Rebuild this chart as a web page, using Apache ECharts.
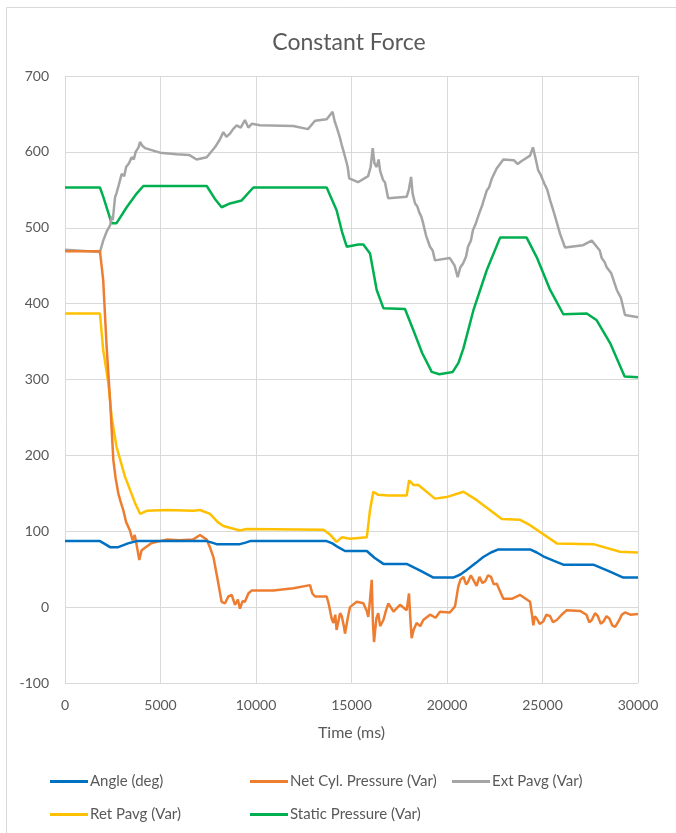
<!DOCTYPE html>
<html>
<head>
<meta charset="utf-8">
<script src="https://cdn.jsdelivr.net/npm/echarts@6/dist/echarts.min.js"></script>
<style>
html,body{margin:0;padding:0;background:#fff;}
#chart{width:676px;height:833px;}
</style>
</head>
<body>
<div id="chart"></div>
<script>
const seriesNames = ['Angle (deg)', 'Net Cyl. Pressure (Var)', 'Ext Pavg (Var)', 'Ret Pavg (Var)', 'Static Pressure (Var)'];
const xTicks = [0, 5000, 10000, 15000, 20000, 25000, 30000];
const yTicks = [-100, 0, 100, 200, 300, 400, 500, 600, 700];

const angleT = [0,1830,2100,2360,2790,3300,3750,7420,7700,7940,9160,9450,9690,13700,14000,14300,14660,15800,16200,16670,17890,18600,19290,20330,20700,21030,21500,21900,22300,22690,24350,24700,25040,25600,26090,27660,28500,29230,30000];
const angleV = [87,87,83,79,79,84,87,87,85,83,83,85,87,87,84,79,74,74,65,57,57,48,39,39,43,49,58,66,72,76,76,72,67,61,56,56,47,39,39];

const netT = [0,1830,1920,2000,2180,2360,2530,2650,2790,2900,3050,3200,3400,3540,3650,3750,3890,4010,4280,4500,4800,5320,6000,6700,7070,7420,7600,7770,8030,8200,8380,8550,8730,8900,9050,9160,9300,9420,9600,9780,10910,11960,12830,12950,13090,13700,13800,13960,14050,14150,14220,14400,14490,14600,14660,14800,14920,15270,15620,15800,15880,15970,16060,16120,16180,16300,16400,16500,16670,16800,16930,17200,17540,17890,18010,18080,18150,18250,18410,18600,18760,19110,19400,19630,20150,20420,20590,20700,20860,21000,21100,21250,21380,21550,21700,21850,22000,22150,22300,22450,22600,22950,23390,23830,24350,24450,24520,24600,24700,24850,25040,25200,25400,25550,25750,26000,26270,26970,27300,27450,27580,27750,27900,28050,28190,28350,28500,28650,28800,29000,29150,29320,29600,30000];
const netV = [469,469,468,431,343,273,194,170,150,140,128,112,101,88,95,82,62,75,80,84,86,89,88,89,95,89,78,66,31,7,5,14,16,3,10,-2,8,7,18,22,22,25,29,18,14,14,5,-15,-21,-10,-30,-8,-12,-25,-35,-15,0,7,5,-5,-13,10,36,-20,-46,-15,-8,-25,-17,-5,5,-6,3,-4,18,-15,-41,-30,-21,-25,-17,-10,-14,-6,-7,1,27,36,40,30,33,42,36,28,40,32,34,42,40,30,31,11,11,16,7,-10,-24,-12,-15,-22,-19,-10,-12,-20,-17,-10,-4,-5,-10,-20,-17,-8,-12,-22,-19,-12,-15,-24,-26,-18,-10,-7,-10,-9];

const extT = [0,1830,2000,2200,2360,2450,2500,2620,2700,2800,2970,3100,3200,3350,3490,3600,3700,3850,3930,4050,4190,4970,5850,6500,6890,7420,7850,8100,8290,8450,8640,8800,8990,9200,9420,9600,9780,10210,11950,12720,13090,13700,14010,14120,14220,14400,14480,14570,14700,14800,14880,15340,15870,16000,16110,16200,16320,16420,16500,16650,16750,16920,17890,18000,18120,18200,18330,18450,18550,18650,18750,18900,19110,19250,19370,20150,20400,20560,20700,20840,21000,21100,21250,21360,21500,21700,21850,22080,22200,22350,22600,22950,23500,23700,23910,24350,24500,24650,24770,24900,25100,25250,25400,25600,25920,26180,27120,27580,27840,28000,28100,28250,28360,28600,28890,29100,29320,30000];
const extV = [471,468,483,496,503,515,510,540,546,555,571,568,580,585,593,590,600,606,613,608,605,599,597,596,590,593,606,616,626,620,624,630,635,632,642,632,637,635,634,630,641,643,653,640,633,618,610,602,590,580,565,560,568,580,605,585,580,590,575,563,560,539,541,550,567,545,532,528,520,515,506,490,475,470,457,460,450,435,448,453,462,475,483,497,505,520,530,549,553,565,578,590,589,584,588,595,606,590,576,570,558,550,536,520,492,474,477,483,475,470,460,455,448,440,418,408,385,382];

const retT = [0,1830,2000,2270,2440,2700,3140,3670,3930,4280,5320,6720,7070,7590,8000,8290,9160,9510,13530,13900,14220,14490,14920,15800,15970,16140,16400,16930,17890,18010,18240,18500,19370,19980,20860,21560,22870,23830,24350,25750,27660,29060,30000];
const retV = [387,387,339,295,251,211,172,137,123,127,128,127,128,123,112,107,101,103,102,95,86,92,90,92,128,152,148,147,147,167,161,161,143,145,152,141,116,115,108,84,83,73,72];

const staticT = [0,1830,2000,2440,2700,3230,3750,4100,7420,7850,8200,8640,9250,9860,13700,14220,14500,14750,15360,15620,15970,16320,16670,17800,18240,18700,19200,19600,20300,20600,20860,21380,22080,22780,24170,24700,25400,26090,27320,27840,28540,29300,30000];
const staticV = [553,553,541,506,506,527,545,555,555,538,527,532,536,553,553,523,495,475,478,478,466,418,394,393,365,335,310,307,310,322,341,391,444,487,487,461,418,386,387,378,348,304,303];

const colors = ['#0070C0', '#ED7D31', '#A5A5A5', '#FFC000', '#00B050'];
const times = [angleT, netT, extT, retT, staticT];
const vals = [angleV, netV, extV, retV, staticV];

const zip = (t, v) => t.map((x, i) => [x, v[i]]);
const font = 'Lato, "Open Sans", sans-serif';
const txt = '#595959';

const legendPos = [[50, 774], [250, 774], [452, 774], [50, 807], [250, 807]];

const chart = echarts.init(document.getElementById('chart'), null, {renderer: 'canvas'});
chart.setOption({
  animation: false,
  backgroundColor: '#ffffff',
  title: {
    text: 'Constant Force', left: 344, top: 26, textAlign: 'center',
    textStyle: {fontFamily: font, fontSize: 23, fontWeight: 'normal', color: txt}
  },
  graphic: [{
    type: 'rect', shape: {x: 6.5, y: 7.5, width: 700, height: 840},
    style: {fill: 'none', stroke: '#d9d9d9', lineWidth: 1}, silent: true
  }],
  grid: {left: 65, right: 38, top: 76, bottom: 150, containLabel: false},
  legend: seriesNames.map((n, i) => ({
    data: [n], left: legendPos[i][0], top: legendPos[i][1], padding: 0,
    icon: 'rect', itemWidth: 38, itemHeight: 3, itemGap: 0,
    selectedMode: false,
    textStyle: {fontFamily: font, fontSize: 15, color: txt, padding: [0, 0, 0, -3]}
  })),
  xAxis: {
    type: 'value', min: 0, max: 30000, interval: 5000,
    name: 'Time (ms)', nameLocation: 'middle', nameGap: 42,
    nameTextStyle: {fontFamily: font, fontSize: 16, color: txt},
    axisLine: {show: false}, axisTick: {show: false},
    axisLabel: {fontFamily: font, fontSize: 14, color: txt, margin: 15,
      formatter: v => xTicks.includes(v) ? String(v) : ''},
    splitLine: {show: true, lineStyle: {color: '#d9d9d9', width: 1}}
  },
  yAxis: {
    type: 'value', min: -100, max: 700, interval: 100,
    axisLine: {show: false}, axisTick: {show: false},
    axisLabel: {fontFamily: font, fontSize: 14, color: txt, margin: 16,
      formatter: v => yTicks.includes(v) ? String(v) : ''},
    splitLine: {show: true, lineStyle: {color: '#d9d9d9', width: 1}}
  },
  series: seriesNames.map((n, i) => ({
    name: n, type: 'line', showSymbol: false, symbol: 'none',
    data: zip(times[i], vals[i]),
    lineStyle: {color: colors[i], width: 2.5},
    itemStyle: {color: colors[i]},
    z: i === 0 ? 6 : 5 - i
  }))
});
</script>
</body>
</html>
